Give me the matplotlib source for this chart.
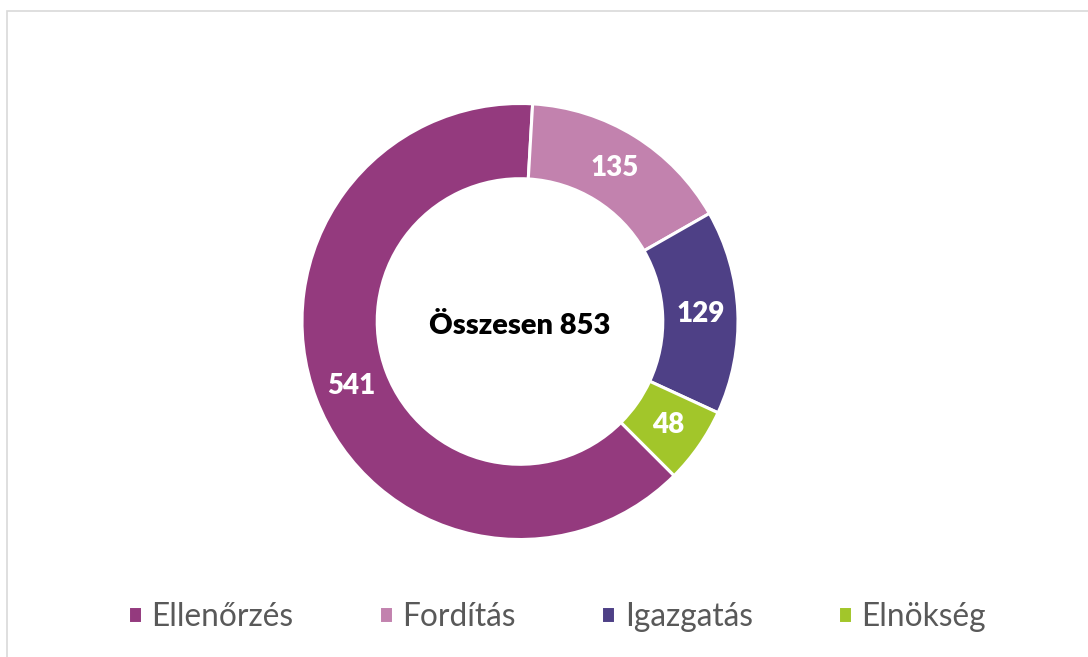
import matplotlib
matplotlib.use("Agg")
import matplotlib.pyplot as plt
from matplotlib.patches import Rectangle

categories = ["Ellenőrzés", "Fordítás", "Igazgatás", "Elnökség"]
values = [541, 135, 129, 48]
colors = ["#943A7E", "#C282AE", "#4E4086", "#A2C62A"]
center_label = "Összesen 853"

plt.rcParams['font.family'] = ['Lato', 'DejaVu Sans']

W, H = 1088, 657
fig = plt.figure(figsize=(W / 100, H / 100), dpi=100)
fig.patch.set_facecolor("white")

# light gray chart border
fig.add_artist(Rectangle((7 / W, -0.01), 1.2, (H - 11) / H + 0.01, transform=fig.transFigure,
                         fill=False, edgecolor="#D9D9D9", linewidth=1.2))

cx, cy, r = 520, 321.5, 218
ax = fig.add_axes([(cx - r) / W, (H - cy - r) / H, 2 * r / W, 2 * r / H])
wedges, texts, autotexts = ax.pie(
    values, colors=colors, startangle=-45, counterclock=False, radius=1,
    wedgeprops=dict(width=0.345, edgecolor="white", linewidth=2.2),
    autopct=lambda p: f"{int(round(p * sum(values) / 100))}", pctdistance=0.828,
    textprops=dict(color="white", fontsize=20, fontweight="heavy"))
ax.set_xlim(-1, 1)
ax.set_ylim(-1, 1)
ax.set_aspect("equal")
ax.axis("off")
ax.text(0, -0.02, center_label, ha="center", va="center", fontsize=21,
        fontweight="heavy", color="black")

leg = fig.legend(wedges, categories, loc="center", bbox_to_anchor=(557 / W, 1 - 617 / H),
                 ncol=4, frameon=False, fontsize=22.8, handlelength=0.44, handleheight=0.44,
                 handletextpad=0.3, columnspacing=2.7, labelcolor="#595959")

fig.savefig("out.png", dpi=100, facecolor="white")
